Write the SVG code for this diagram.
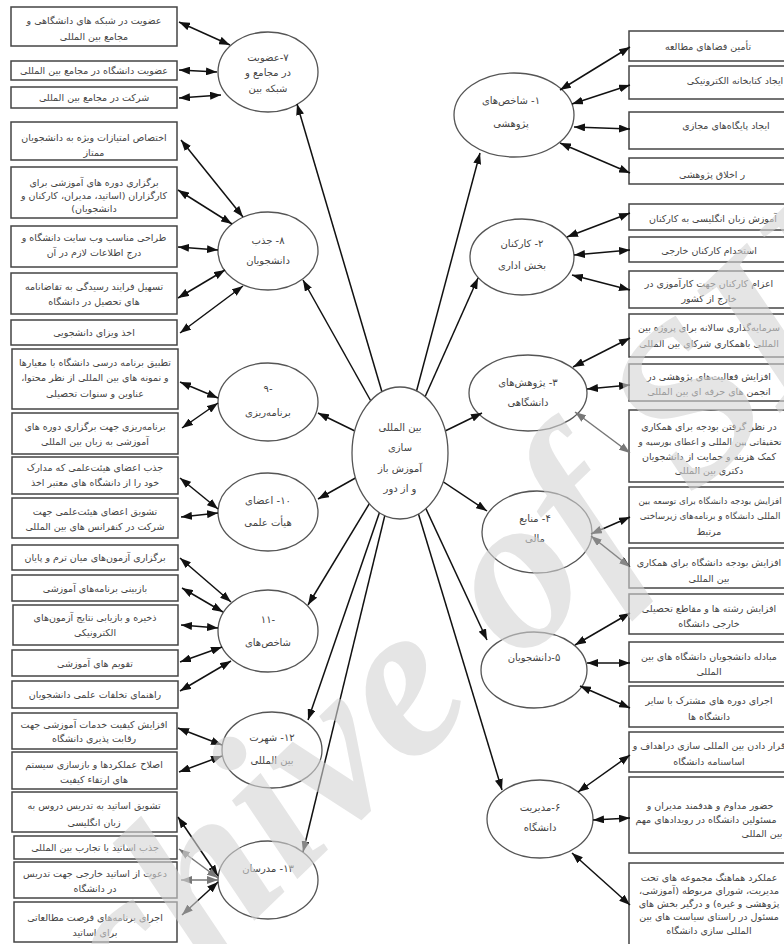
<svg xmlns="http://www.w3.org/2000/svg" width="784" height="944" viewBox="0 0 784 944">
<style>
.box{fill:#fff;stroke:#444;stroke-width:1.5}
.ell{fill:#fff;stroke:#555;stroke-width:1.3}
.t{font-family:'DejaVu Sans','Noto Sans',sans-serif;font-size:9.5px;fill:#444;text-anchor:middle;direction:rtl;unicode-bidi:embed}
.et{font-size:10px}
.sm{font-size:8.8px}
#connectors line{stroke:#111;stroke-width:1.5;fill:none}
#connectors line.gray{stroke:#777}
#connectors .bi{marker-start:url(#ah);marker-end:url(#ah)}
#connectors .bi.gray{marker-start:url(#ahg);marker-end:url(#ahg)}
#connectors .uni{marker-end:url(#ah)}
.wm{font-family:'Liberation Serif',serif;font-style:italic;font-weight:bold;font-size:222px;fill:#d4d4d4;opacity:0.6}
</style>
<defs>
<marker id="ah" markerUnits="userSpaceOnUse" markerWidth="11" markerHeight="8" refX="11" refY="4" orient="auto-start-reverse"><path d="M0,0 L11,4 L0,8 z" fill="#111"/></marker>
<marker id="ahg" markerUnits="userSpaceOnUse" markerWidth="11" markerHeight="8" refX="11" refY="4" orient="auto-start-reverse"><path d="M0,0 L11,4 L0,8 z" fill="#777"/></marker>
</defs>
<rect width="784" height="944" fill="#fff"/>

<!-- left boxes -->
<g id="b1"><rect class="box" x="11" y="7" width="166" height="39"/><text class="t" x="94" y="23.5">عضویت در شبکه های دانشگاهی و</text><text class="t" x="94" y="39.5">مجامع بین المللی</text></g>
<g id="b2"><rect class="box" x="11" y="61" width="166" height="19"/><text class="t" x="94" y="74">عضویت دانشگاه در مجامع بین المللی</text></g>
<g id="b3"><rect class="box" x="11" y="87" width="166" height="21"/><text class="t" x="94" y="101">شرکت در مجامع بین المللی</text></g>
<g id="b4"><rect class="box" x="11" y="122" width="166" height="38"/><text class="t" x="94" y="140.5">اختصاص امتیازات ویژه به دانشجویان</text><text class="t" x="94" y="155.5">ممتاز</text></g>
<g id="b5"><rect class="box" x="11" y="167" width="166" height="51"/><text class="t" x="94" y="186">برگزاری دوره های آموزشی برای</text><text class="t" x="94" y="199">کارگزاران (اساتید، مدیران، کارکنان و</text><text class="t" x="94" y="212">دانشجویان)</text></g>
<g id="b6"><rect class="box" x="11" y="226" width="166" height="41"/><text class="t" x="94" y="240.5">طراحی مناسب وب سایت دانشگاه و</text><text class="t" x="94" y="255.5">درج اطلاعات لازم در آن</text></g>
<g id="b7"><rect class="box" x="11" y="273" width="166" height="41"/><text class="t" x="94" y="290">تسهیل فرایند رسیدگی به تقاضانامه</text><text class="t" x="94" y="305">های تحصیل در دانشگاه</text></g>
<g id="b8"><rect class="box" x="11" y="320" width="166" height="25"/><text class="t" x="94" y="336">اخذ ویزای دانشجویی</text></g>
<g id="b9"><rect class="box" x="12" y="349" width="166" height="60"/><text class="t" x="95" y="365.5">تطبیق برنامه درسی دانشگاه با معیارها</text><text class="t" x="95" y="381">و نمونه های بین المللی از نظر محتوا،</text><text class="t" x="95" y="396.5">عناوین و سنوات تحصیلی</text></g>
<g id="b10"><rect class="box" x="12" y="413" width="166" height="41"/><text class="t" x="95" y="429.5">برنامه‌ریزی جهت برگزاری دوره های</text><text class="t" x="95" y="444.5">آموزشی به زبان بین المللی</text></g>
<g id="b11"><rect class="box" x="12" y="457" width="166" height="37"/><text class="t" x="95" y="470.5">جذب اعضای هیئت‌علمی که مدارک</text><text class="t" x="95" y="485.5">خود را از دانشگاه های معتبر اخذ</text></g>
<g id="b12"><rect class="box" x="12" y="498" width="166" height="40"/><text class="t" x="95" y="514.5">تشویق اعضای هیئت‌علمی جهت</text><text class="t" x="95" y="529.5">شرکت در کنفرانس های بین المللی</text></g>
<g id="b13"><rect class="box" x="12" y="545" width="166" height="25"/><text class="t" x="95" y="561">برگزاری آزمون‌های میان ترم و پایان</text></g>
<g id="b14"><rect class="box" x="12" y="575" width="166" height="26"/><text class="t" x="95" y="591.5">بازبینی برنامه‌های آموزشی</text></g>
<g id="b15"><rect class="box" x="13" y="605" width="165" height="40"/><text class="t" x="95" y="620.5">ذخیره و بازیابی نتایج آزمون‌های</text><text class="t" x="95" y="635.5">الکترونیکی</text></g>
<g id="b16"><rect class="box" x="12" y="650" width="166" height="26"/><text class="t" x="95" y="666.5">تقویم های آموزشی</text></g>
<g id="b17"><rect class="box" x="12" y="681" width="166" height="27"/><text class="t" x="95" y="697.5">راهنمای تخلفات علمی دانشجویان</text></g>
<g id="b18"><rect class="box" x="12" y="713" width="165" height="36"/><text class="t" x="94" y="727.5">افزایش کیفیت خدمات آموزشی جهت</text><text class="t" x="94" y="741.5">رقابت پذیری دانشگاه</text></g>
<g id="b19"><rect class="box" x="12" y="752" width="165" height="37"/><text class="t" x="94" y="767.5">اصلاح عملکردها و بازسازی سیستم</text><text class="t" x="94" y="782.5">های ارتقاء کیفیت</text></g>
<g id="b20"><rect class="box" x="12" y="792" width="165" height="40"/><text class="t" x="94" y="808.5">تشویق اساتید به تدریس دروس به</text><text class="t" x="94" y="825.5">زبان انگلیسی</text></g>
<g id="b21"><rect class="box" x="14" y="836" width="163" height="23"/><text class="t" x="95" y="851">جذب اساتید با تجارب بین المللی</text></g>
<g id="b22"><rect class="box" x="14" y="862" width="163" height="36"/><text class="t" x="95" y="876.5">دعوت از اساتید خارجی جهت تدریس</text><text class="t" x="95" y="891.5">در دانشگاه</text></g>
<g id="b23"><rect class="box" x="14" y="902" width="163" height="40"/><text class="t" x="95" y="920.5">اجرای برنامه‌های فرصت مطالعاتی</text><text class="t" x="95" y="935.5">برای اساتید</text></g>

<!-- right boxes -->
<g id="r1"><rect class="box" x="629" y="31" width="165" height="30"/><text class="t" x="708" y="49.5">تأمین فضاهای مطالعه</text></g>
<g id="r2"><rect class="box" x="629" y="66" width="165" height="33"/><text class="t" x="735" y="83.5">ایجاد کتابخانه الکترونیکی</text></g>
<g id="r3"><rect class="box" x="629" y="112" width="165" height="37"/><text class="t" x="726" y="128.5">ایجاد پایگاه‌های مجازی</text></g>
<g id="r4"><rect class="box" x="629" y="158" width="165" height="26"/><text class="t" x="712" y="178">ر اخلاق پژوهشی</text></g>
<g id="r5"><rect class="box" x="629" y="204" width="165" height="26"/><text class="t" x="713" y="221.5">آموزش زبان انگلیسی به کارکنان</text></g>
<g id="r6"><rect class="box" x="629" y="237" width="165" height="25"/><text class="t" x="709" y="253.5">استخدام کارکنان خارجی</text></g>
<g id="r7"><rect class="box" x="629" y="271" width="165" height="37"/><text class="t" x="709" y="286.5">اعزام کارکنان جهت کارآموزی در</text><text class="t" x="709" y="301.5">خارج از کشور</text></g>
<g id="r8"><rect class="box" x="629" y="314" width="165" height="43"/><text class="t" x="709" y="330.5">سرمایه‌گذاری سالانه برای پروژه بین</text><text class="t" x="709" y="346.5">المللی باهمکاری شرکای بین المللی</text></g>
<g id="r9"><rect class="box" x="629" y="364" width="165" height="37"/><text class="t" x="709" y="379.5">افزایش فعالیت‌های پژوهشی در</text><text class="t" x="709" y="394.5">انجمن های حرفه ای بین المللی</text></g>
<g id="r10"><rect class="box" x="629" y="410" width="165" height="72"/><text class="t" x="709" y="429.5">در نظر گرفتن بودجه برای همکاری</text><text class="t sm" x="710" y="445">تحقیقاتی بین المللی و اعطای بورسیه و</text><text class="t" x="709" y="459.5">کمک هزینه و حمایت از دانشجویان</text><text class="t" x="709" y="474">دکتری بین المللی</text></g>
<g id="r11"><rect class="box" x="629" y="487" width="165" height="56"/><text class="t sm" x="710" y="503.5">افزایش بودجه دانشگاه برای توسعه بین</text><text class="t sm" x="710" y="519">المللی دانشگاه و برنامه‌های زیرساختی</text><text class="t" x="709" y="534.5">مرتبط</text></g>
<g id="r12"><rect class="box" x="629" y="548" width="165" height="40"/><text class="t" x="709" y="565.5">افزایش بودجه دانشگاه برای همکاری</text><text class="t" x="709" y="581.5">بین المللی</text></g>
<g id="r13"><rect class="box" x="629" y="594" width="165" height="40"/><text class="t" x="709" y="611.5">افزایش رشته ها و مقاطع تحصیلی</text><text class="t" x="709" y="626.5">خارجی دانشگاه</text></g>
<g id="r14"><rect class="box" x="629" y="642" width="165" height="40"/><text class="t" x="709" y="659.5">مبادله دانشجویان دانشگاه های بین</text><text class="t" x="709" y="674.5">المللی</text></g>
<g id="r15"><rect class="box" x="629" y="686" width="165" height="41"/><text class="t" x="709" y="703.5">اجرای دوره های مشترک با سایر</text><text class="t" x="709" y="719.5">دانشگاه ها</text></g>
<g id="r16"><rect class="box" x="629" y="732" width="165" height="40"/><text class="t" x="709" y="748.5">قرار دادن بین المللی سازی دراهداف و</text><text class="t" x="709" y="764.5">اساسنامه دانشگاه</text></g>
<g id="r17"><rect class="box" x="629" y="777" width="165" height="76"/><text class="t" x="710" y="808.5">حضور مداوم و هدفمند مدیران و</text><text class="t" x="706" y="822.5">مسئولین دانشگاه در رویدادهای مهم</text><text class="t" x="762" y="836.5">بین المللی</text></g>
<g id="r18"><rect class="box" x="629" y="863" width="165" height="90"/><text class="t" x="709" y="880.5">عملکرد هماهنگ مجموعه های تحت</text><text class="t" x="709" y="893.5">مدیریت، شورای مربوطه (آموزشی،</text><text class="t" x="709" y="906.5">پژوهشی و غیره) و درگیر بخش های</text><text class="t" x="709" y="920">مسئول در راستای سیاست های بین</text><text class="t" x="709" y="933.5">المللی سازی دانشگاه</text></g>

<!-- ellipses -->
<g id="e7"><ellipse class="ell" cx="268" cy="72" rx="50" ry="40"/><text class="t et" x="268" y="60.5">۷-عضویت</text><text class="t et" x="268" y="75.5">در مجامع و</text><text class="t et" x="268" y="91.5">شبکه بین</text></g>
<g id="e1"><ellipse class="ell" cx="514" cy="115" rx="60" ry="42"/><text class="t et" x="511" y="103.5">۱- شاخص‌های</text><text class="t et" x="511" y="126.5">پژوهشی</text></g>
<g id="e8"><ellipse class="ell" cx="268" cy="251" rx="50" ry="39"/><text class="t et" x="268" y="243.5">۸- جذب</text><text class="t et" x="268" y="263.5">دانشجویان</text></g>
<g id="e2"><ellipse class="ell" cx="522" cy="257" rx="52" ry="38"/><text class="t et" x="522" y="246.5">۲- کارکنان</text><text class="t et" x="522" y="268.5">بخش اداری</text></g>
<g id="e9"><ellipse class="ell" cx="268" cy="402" rx="50" ry="39"/><text class="t et" x="268" y="391.5">-۹</text><text class="t et" x="268" y="415.5">برنامه‌ریزی</text></g>
<g id="e10"><ellipse class="ell" cx="268" cy="512" rx="50" ry="39"/><text class="t et" x="268" y="503.5">۱۰- اعضای</text><text class="t et" x="268" y="525.5">هیأت علمی</text></g>
<g id="e3"><ellipse class="ell" cx="528" cy="393" rx="59" ry="38"/><text class="t et" x="528" y="385.5">۳- پژوهش‌های</text><text class="t et" x="528" y="405.5">دانشگاهی</text></g>
<g id="e4"><ellipse class="ell" cx="537" cy="532" rx="55" ry="41"/><text class="t et" x="535" y="521.5">۴- منابع</text><text class="t et" x="535" y="541.5">مالی</text></g>
<g id="e11"><ellipse class="ell" cx="268" cy="631" rx="50" ry="41"/><text class="t et" x="268" y="622.5">-۱۱</text><text class="t et" x="268" y="645.5">شاخص‌های</text></g>
<g id="e12"><ellipse class="ell" cx="272" cy="750" rx="50" ry="38"/><text class="t et" x="272" y="740.5">۱۲- شهرت</text><text class="t et" x="272" y="763.5">بین المللی</text></g>
<g id="e13"><ellipse class="ell" cx="268" cy="880" rx="50" ry="39"/><text class="t et" x="268" y="871.5">۱۳- مدرسان</text></g>
<g id="e5"><ellipse class="ell" cx="534" cy="670" rx="53" ry="38"/><text class="t et" x="534" y="660.5">۵-دانشجویان</text></g>
<g id="e6"><ellipse class="ell" cx="540" cy="819" rx="53" ry="39"/><text class="t et" x="540" y="810.5">۶-مدیریت</text><text class="t et" x="540" y="830.5">دانشگاه</text></g>

<g id="connectors">
<!-- left -->
<line class="bi" x1="179" y1="22" x2="230" y2="45"/>
<line class="bi" x1="179" y1="70" x2="217" y2="72"/>
<line class="bi" x1="179" y1="98" x2="221" y2="95"/>
<line class="bi" x1="181" y1="140" x2="243" y2="217"/>
<line class="bi" x1="178" y1="190" x2="232" y2="224"/>
<line class="bi" x1="178" y1="247" x2="218" y2="250"/>
<line class="bi" x1="178" y1="298" x2="225" y2="270"/>
<line class="bi" x1="180" y1="333" x2="243" y2="286"/>
<line class="bi" x1="180" y1="382" x2="218" y2="398"/>
<line class="bi" x1="182" y1="428" x2="218" y2="403"/>
<line class="bi" x1="180" y1="478" x2="218" y2="509"/>
<line class="bi" x1="181" y1="517" x2="218" y2="513"/>
<line class="bi" x1="180" y1="558" x2="231" y2="602"/>
<line class="bi" x1="182" y1="588" x2="223" y2="612"/>
<line class="bi" x1="181" y1="625" x2="218" y2="628"/>
<line class="bi" x1="180" y1="662" x2="222" y2="647"/>
<line class="bi" x1="180" y1="691" x2="231" y2="661"/>
<line class="bi" x1="178" y1="728" x2="222" y2="745"/>
<line class="bi" x1="179" y1="772" x2="222" y2="756"/>
<line class="bi" x1="178" y1="817" x2="218" y2="876"/>
<line class="bi gray" x1="179" y1="849" x2="218" y2="878"/>
<line class="bi gray" x1="181" y1="880" x2="218" y2="880"/>
<line class="bi" x1="182" y1="915" x2="218" y2="882"/>
<!-- right -->
<line class="bi" x1="630" y1="47" x2="560" y2="90"/>
<line class="bi" x1="630" y1="85" x2="572" y2="104"/>
<line class="bi" x1="630" y1="129" x2="574" y2="127"/>
<line class="bi" x1="630" y1="173" x2="560" y2="143"/>
<line class="bi" x1="630" y1="213" x2="567" y2="237"/>
<line class="bi" x1="630" y1="250" x2="574" y2="255"/>
<line class="bi" x1="630" y1="290" x2="572" y2="275"/>
<line class="bi" x1="630" y1="338" x2="573" y2="367"/>
<line class="bi" x1="630" y1="385" x2="587" y2="389"/>
<line class="bi gray" x1="630" y1="453" x2="575" y2="412"/>
<line class="bi" x1="630" y1="517" x2="591" y2="534"/>
<line class="bi" x1="630" y1="567" x2="591" y2="536"/>
<line class="bi" x1="630" y1="613" x2="575" y2="645"/>
<line class="bi" x1="630" y1="663" x2="587" y2="663"/>
<line class="bi" x1="630" y1="708" x2="580" y2="686"/>
<line class="bi" x1="630" y1="755" x2="578" y2="792"/>
<line class="bi" x1="630" y1="818" x2="593" y2="820"/>
<line class="bi" x1="630" y1="905" x2="572" y2="853"/>
<!-- spokes -->
<line class="uni" x1="400" y1="453" x2="297" y2="104"/>
<line class="uni" x1="400" y1="453" x2="303" y2="280"/>
<line class="uni" x1="400" y1="453" x2="318" y2="413"/>
<line class="uni" x1="400" y1="453" x2="318" y2="499"/>
<line class="uni" x1="400" y1="453" x2="308" y2="605"/>
<line class="uni" x1="400" y1="453" x2="308" y2="720"/>
<line class="uni" x1="400" y1="453" x2="303" y2="852"/>
<line class="uni" x1="400" y1="453" x2="480" y2="153"/>
<line class="uni" x1="400" y1="453" x2="478" y2="278"/>
<line class="uni" x1="400" y1="453" x2="482" y2="413"/>
<line class="uni" x1="400" y1="453" x2="487" y2="511"/>
<line class="uni" x1="400" y1="453" x2="487" y2="640"/>
<line class="uni" x1="400" y1="453" x2="502" y2="790"/>
</g>

<g id="center"><ellipse class="ell" cx="400" cy="453" rx="48" ry="66"/><text class="t et" x="400" y="430.5">بین المللی</text><text class="t et" x="400" y="450.5">سازی</text><text class="t et" x="400" y="471.5">آموزش باز</text><text class="t et" x="400" y="491.5">و از دور</text></g>

<text class="wm" transform="translate(-35,1200) rotate(-44)">Archive of SID</text>
</svg>
